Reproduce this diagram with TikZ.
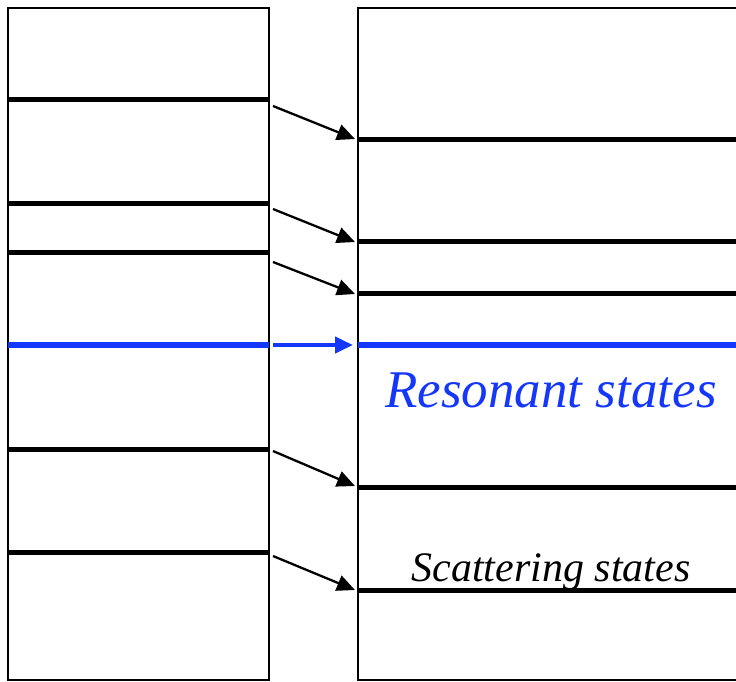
\documentclass[tikz,border=0pt]{standalone}
\usepackage{fontspec}
\setmainfont{Liberation Serif}
\usetikzlibrary{arrows.meta}
\definecolor{resblue}{RGB}{20,55,250}
\tikzset{
  box/.style={line width=2.5pt},
  level/.style={line width=5pt},
  moveto/.style={-{Triangle[length=18pt,width=16pt]}, line width=2.3pt},
}

\begin{document}
\begin{tikzpicture}[x=1pt,y=-1pt]
      \useasboundingbox (0,0) rectangle (736,681);
      \clip (0,0) rectangle (736,681);
      % the two spectra
      \draw[box] (8,8) rectangle (269,680);
      \draw[box] (358,8) rectangle (780,680);

      % left levels
      \coordinate (LA) at (8,99);   \coordinate (LA') at (269,99);
      \coordinate (LB) at (8,203);  \coordinate (LB') at (269,203);
      \coordinate (LC) at (8,252);  \coordinate (LC') at (269,252);
      \coordinate (LR) at (8,345);  \coordinate (LR') at (269,345);
      \coordinate (LD) at (8,449);  \coordinate (LD') at (269,449);
      \coordinate (LE) at (8,552);  \coordinate (LE') at (269,552);
      % right levels
      \coordinate (RA) at (358,139); \coordinate (RA') at (736,139);
      \coordinate (RB) at (358,241); \coordinate (RB') at (736,241);
      \coordinate (RC) at (358,293); \coordinate (RC') at (736,293);
      \coordinate (RR) at (358,345); \coordinate (RR') at (736,345);
      \coordinate (RD) at (358,487); \coordinate (RD') at (736,487);
      \coordinate (RE) at (358,590); \coordinate (RE') at (736,590);

      \foreach \p in {A,B,C,D,E} {
        \draw[level] (L\p) -- (L\p');
        \draw[level] (R\p) -- (R\p');
      }
      \draw[level, resblue, line width=6.5pt] (LR) -- (LR');
      \draw[level, resblue, line width=6.5pt] (RR) -- (RR');

      % shifts
      \draw[moveto] ([shift={(4,7)}]LA') -- ([shift={(-3,0)}]RA);
      \draw[moveto] ([shift={(4,6)}]LB') -- ([shift={(-3,1)}]RB);
      \draw[moveto] ([shift={(4,10)}]LC') -- ([shift={(-3,1)}]RC);
      \draw[moveto, resblue, line width=4pt] ([shift={(4,0)}]LR') -- ([shift={(-5,0)}]RR);
      \draw[moveto] ([shift={(4,2)}]LD') -- ([shift={(-3,-1)}]RD);
      \draw[moveto] ([shift={(4,4)}]LE') -- ([shift={(-3,0)}]RE);

      % labels
      \node[resblue, font=\fontsize{53}{60}\selectfont\itshape] (res) at (551,390) {Resonant states};
      \node[font=\fontsize{42}{50}\selectfont\itshape] (scat) at (551,572) {Scattering states};
\end{tikzpicture}
\end{document}
